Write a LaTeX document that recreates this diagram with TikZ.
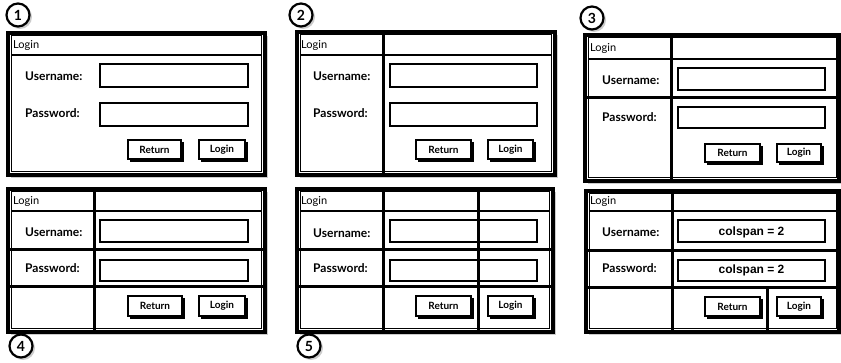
\documentclass[tikz,border=0pt]{standalone}
\usepackage{fontspec}
\setmainfont{Lato}
\newfontfamily\colfont{Liberation Sans}
\begin{document}
\begin{tikzpicture}[x=1pt,y=-1pt,
  frame/.style={line width=3.4pt},
  thinline/.style={line width=1pt},
  gridline/.style={line width=3pt},
  titleline/.style={line width=1.5pt},
  field/.style={line width=1.7pt},
  shadowfill/.style={fill=black!20},
  lbl/.style={anchor=west,inner sep=0pt,font=\bfseries\fontsize{12}{13}\selectfont},
  ttl/.style={anchor=west,inner sep=0pt,font=\fontsize{11}{12}\selectfont},
  btntext/.style={inner sep=0pt,font=\bfseries\fontsize{10}{11}\selectfont},
  coltext/.style={inner sep=0pt,font=\colfont\bfseries\fontsize{12}{13}\selectfont},
  btnbox/.style={line width=1.4pt,fill=white},
  btnshadow/.style={line width=2.4pt},
  numcircle/.style={circle,draw,line width=2.2pt,minimum size=23pt,inner sep=0pt,fill=white,font=\bfseries\fontsize{14}{15}\selectfont}
]
\useasboundingbox (0,0) rectangle (841,363);
\fill[white] (0,0) rectangle (841,363);

% ================= Panel 1 =================
\fill[shadowfill] (11,36) rectangle (268,178);
\draw[frame,fill=white] (8,33) rectangle (265,175);
\draw[thinline] (11,36) rectangle (261,172);
\draw[titleline] (11,55) -- (261,55);
\node[ttl] (t1) at (13,45) {Login};
\node[lbl] (u1) at (25,76) {Username:};
\node[lbl] (p1) at (25,113) {Password:};
\draw[field] (100,64) rectangle (248,87);
\draw[field] (100,103) rectangle (248,126);
\draw[btnshadow] (183,142) -- (183,161) -- (130,161);
\draw[btnbox] (128,140) rectangle (181,159);
\node[btntext] (r1) at (154.5,149.5) {Return};
\draw[btnshadow] (247,142) -- (247,161) -- (201,161);
\draw[btnbox] (199,140) rectangle (245,159);
\node[btntext] (l1) at (222,149.5) {Login};
\fill[black!20] (20,17) circle (12);
\node[numcircle] (c1) at (18,15) {1};

% ================= Panel 2 =================
\fill[shadowfill] (300,35) rectangle (558,178);
\draw[frame,fill=white] (297,32) rectangle (555,175);
\draw[thinline] (300,35) rectangle (551,172);
\draw[titleline] (300,55) -- (551,55);
\draw[gridline] (383,32) -- (383,175);
\node[ttl] (t2) at (301,45) {Login};
\node[lbl] (u2) at (313,76) {Username:};
\node[lbl] (p2) at (313,113) {Password:};
\draw[field] (390,64) rectangle (537,87);
\draw[field] (390,103) rectangle (537,126);
\draw[btnshadow] (473,142) -- (473,161) -- (418,161);
\draw[btnbox] (416,140) rectangle (471,159);
\node[btntext] (r2) at (443.5,149.5) {Return};
\draw[btnshadow] (535,142) -- (535,161) -- (490,161);
\draw[btnbox] (488,140) rectangle (533,159);
\node[btntext] (l2) at (510.5,149.5) {Login};
\fill[black!20] (303,17) circle (12);
\node[numcircle] (c2) at (301,15) {2};

% ================= Panel 3 =================
\fill[shadowfill] (588,38) rectangle (841,184);
\draw[frame,fill=white] (585,35) rectangle (839,181);
\draw[thinline] (588,38) rectangle (836,178);
\draw[titleline] (588,59) -- (836,59);
\draw[gridline] (671,35) -- (671,181);
\draw[gridline] (585,98) -- (839,98);
\node[ttl] (t3) at (590,48) {Login};
\node[lbl] (u3) at (602,80) {Username:};
\node[lbl] (p3) at (602,117) {Password:};
\draw[field] (678,68) rectangle (825,90);
\draw[field] (678,107) rectangle (825,128);
\draw[btnshadow] (762,146) -- (762,164) -- (707,164);
\draw[btnbox] (705,144) rectangle (760,162);
\node[btntext] (r3) at (732.5,153) {Return};
\draw[btnshadow] (823,146) -- (823,164) -- (779,164);
\draw[btnbox] (777,144) rectangle (821,162);
\node[btntext] (l3) at (799,153) {Login};
\fill[black!20] (594,20) circle (12);
\node[numcircle] (c3) at (592,18) {3};

% ================= Panel 4 =================
\fill[shadowfill] (11,192) rectangle (268,335);
\draw[frame,fill=white] (8,189) rectangle (265,332);
\draw[thinline] (11,192) rectangle (261,329);
\draw[titleline] (11,211) -- (261,211);
\draw[gridline] (94,189) -- (94,332);
\draw[gridline] (8,250) -- (265,250);
\draw[gridline] (8,287) -- (265,287);
\node[ttl] (t4) at (13,201) {Login};
\node[lbl] (u4) at (25,232) {Username:};
\node[lbl] (p4) at (25,268) {Password:};
\draw[field] (100,220) rectangle (248,242);
\draw[field] (100,260) rectangle (248,281);
\draw[btnshadow] (184,298) -- (184,318) -- (130,318);
\draw[btnbox] (128,296) rectangle (182,316);
\node[btntext] (r4) at (155,306) {Return};
\draw[btnshadow] (247,298) -- (247,318) -- (201,318);
\draw[btnbox] (199,296) rectangle (245,316);
\node[btntext] (l4) at (222,306) {Login};
\fill[black!20] (23,348) circle (12);
\node[numcircle] (c4) at (21,346) {4};

% ================= Panel 5 =================
\fill[shadowfill] (300,192) rectangle (556,335);
\draw[frame,fill=white] (297,189) rectangle (553,332);
\draw[thinline] (300,192) rectangle (549,329);
\draw[titleline] (300,211) -- (549,211);
\draw[gridline] (383,189) -- (383,332);
\draw[gridline] (297,250) -- (553,250);
\draw[gridline] (297,287) -- (553,287);
\node[ttl] (t5) at (301,201) {Login};
\node[lbl] (u5) at (313,233) {Username:};
\node[lbl] (p5) at (313,268) {Password:};
\draw[field] (390,220) rectangle (537,242);
\draw[field] (390,260) rectangle (537,281);
\draw[gridline] (478,189) -- (478,332);
\draw[btnshadow] (473,298) -- (473,318) -- (418,318);
\draw[btnbox] (416,296) rectangle (471,316);
\node[btntext] (r5) at (443.5,306) {Return};
\draw[btnshadow] (535,298) -- (535,318) -- (490,318);
\draw[btnbox] (488,296) rectangle (533,316);
\node[btntext] (l5) at (510.5,306) {Login};
\fill[black!20] (311,348) circle (12);
\node[numcircle] (c5) at (309,346) {5};

% ================= Panel 6 =================
\fill[shadowfill] (589,194) rectangle (841,335);
\draw[frame,fill=white] (586,191) rectangle (839,332);
\draw[thinline] (589,194) rectangle (836,329);
\draw[titleline] (589,211) -- (836,211);
\draw[gridline] (672,191) -- (672,332);
\draw[gridline] (586,251) -- (839,251);
\draw[gridline] (586,288) -- (839,288);
\draw[gridline] (767,288) -- (767,332);
\node[ttl] (t6) at (590,201) {Login};
\node[lbl] (u6) at (602,232) {Username:};
\node[lbl] (p6) at (602,268) {Password:};
\draw[field] (678,220) rectangle (825,242);
\node[coltext] (k1) at (751.5,232) {colspan = 2};
\draw[field] (678,260) rectangle (825,281);
\node[coltext] (k2) at (751.5,270.5) {colspan = 2};
\draw[btnshadow] (762,299) -- (762,318) -- (707,318);
\draw[btnbox] (705,297) rectangle (760,316);
\node[btntext] (r6) at (732.5,306.5) {Return};
\draw[btnshadow] (823,299) -- (823,318) -- (779,318);
\draw[btnbox] (777,297) rectangle (821,316);
\node[btntext] (l6) at (799,306.5) {Login};
\end{tikzpicture}
\end{document}
